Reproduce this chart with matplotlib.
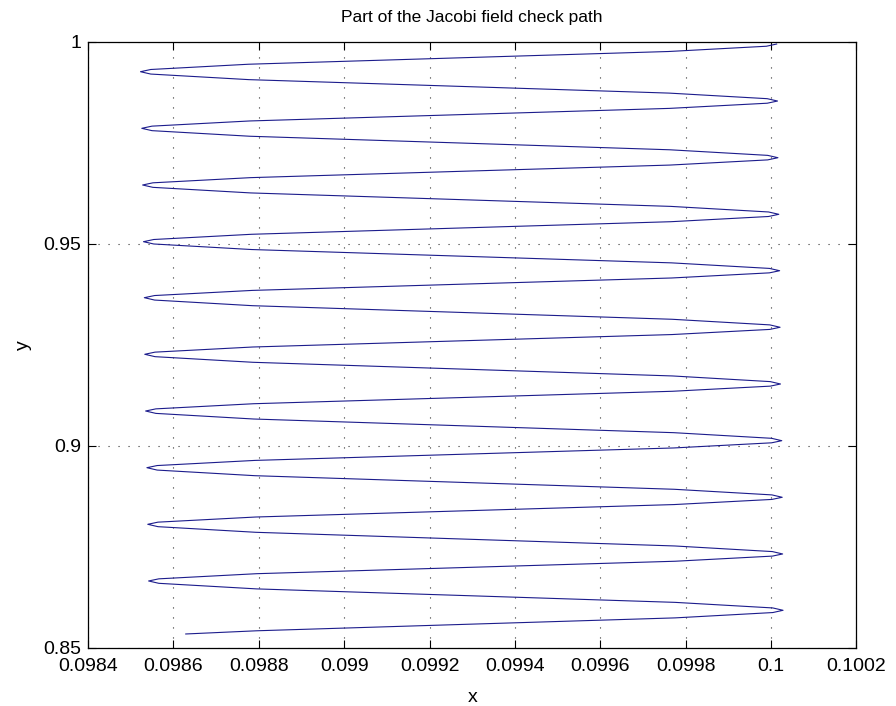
import matplotlib
matplotlib.use("Agg")
import matplotlib.pyplot as plt

plt.rcParams['font.family'] = ['Liberation Sans', 'DejaVu Sans']

# path samples, bottom (start) to top (end)
path_x = [
    0.098629, 0.098795, 0.099285, 0.099775, 0.100004,
    0.100028, 0.100004, 0.099775, 0.099285, 0.098795, 0.098566,
    0.098542, 0.098566, 0.098795, 0.099285, 0.099775, 0.100003,
    0.100027, 0.100003, 0.099774, 0.099284, 0.098793, 0.098564,
    0.098540, 0.098564, 0.098793, 0.099283, 0.099773, 0.100002,
    0.100026, 0.100002, 0.099773, 0.099282, 0.098791, 0.098562,
    0.098538, 0.098562, 0.098791, 0.099282, 0.099772, 0.100001,
    0.100025, 0.100001, 0.099772, 0.099280, 0.098788, 0.098559,
    0.098535, 0.098559, 0.098788, 0.099279, 0.099769, 0.099998,
    0.100022, 0.099998, 0.099769, 0.099278, 0.098786, 0.098557,
    0.098533, 0.098557, 0.098786, 0.099277, 0.099768, 0.099997,
    0.100021, 0.099997, 0.099768, 0.099277, 0.098785, 0.098556,
    0.098532, 0.098556, 0.098785, 0.099276, 0.099767, 0.099996,
    0.100020, 0.099996, 0.099767, 0.099275, 0.098783, 0.098554,
    0.098530, 0.098554, 0.098783, 0.099274, 0.099765, 0.099994,
    0.100018, 0.099994, 0.099765, 0.099273, 0.098781, 0.098552,
    0.098528, 0.098552, 0.098781, 0.099272, 0.099763, 0.099992,
    0.100016, 0.099992, 0.099763, 0.099271, 0.098779, 0.098550,
    0.098526, 0.098550, 0.098779, 0.099271, 0.099762, 0.099991,
    0.100015, 0.099991, 0.099761, 0.099269, 0.098777, 0.098547,
    0.098523, 0.098547, 0.098776, 0.099268, 0.099760, 0.099989,
    0.100013,
]
path_y = [
    0.85346, 0.85425, 0.85585, 0.85744, 0.85876,
    0.85932, 0.85990, 0.86128, 0.86295, 0.86461, 0.86599,
    0.86657, 0.86710, 0.86837, 0.86991, 0.87145, 0.87272,
    0.87325, 0.87384, 0.87523, 0.87692, 0.87861, 0.88000,
    0.88059, 0.88112, 0.88239, 0.88393, 0.88547, 0.88674,
    0.88727, 0.88786, 0.88925, 0.89093, 0.89261, 0.89400,
    0.89459, 0.89512, 0.89639, 0.89793, 0.89947, 0.90074,
    0.90127, 0.90186, 0.90325, 0.90494, 0.90663, 0.90802,
    0.90861, 0.90914, 0.91041, 0.91195, 0.91349, 0.91476,
    0.91529, 0.91588, 0.91728, 0.91897, 0.92066, 0.92205,
    0.92264, 0.92317, 0.92444, 0.92598, 0.92752, 0.92879,
    0.92932, 0.92991, 0.93130, 0.93298, 0.93466, 0.93605,
    0.93664, 0.93717, 0.93844, 0.93998, 0.94151, 0.94278,
    0.94331, 0.94388, 0.94525, 0.94690, 0.94855, 0.94992,
    0.95049, 0.95103, 0.95232, 0.95388, 0.95543, 0.95672,
    0.95726, 0.95784, 0.95922, 0.96089, 0.96255, 0.96393,
    0.96451, 0.96505, 0.96633, 0.96789, 0.96944, 0.97072,
    0.97126, 0.97184, 0.97322, 0.97490, 0.97657, 0.97795,
    0.97853, 0.97907, 0.98035, 0.98191, 0.98346, 0.98474,
    0.98528, 0.98586, 0.98724, 0.98891, 0.99057, 0.99195,
    0.99253, 0.99308, 0.99438, 0.99596, 0.99753, 0.99883,
    0.99938,
]

xticks = [0.0984, 0.0986, 0.0988, 0.0990, 0.0992, 0.0994, 0.0996, 0.0998, 0.1000, 0.1002]
xtick_labels = ['0.0984', '0.0986', '0.0988', '0.099', '0.0992', '0.0994',
                '0.0996', '0.0998', '0.1', '0.1002']
yticks = [0.85, 0.90, 0.95, 1.00]
ytick_labels = ['0.85', '0.9', '0.95', '1']

fig = plt.figure(figsize=(8.96, 7.06), dpi=100)
ax = fig.add_axes([0.0982, 0.0822, 0.8577, 0.8590])

ax.plot(path_x, path_y, color='#1c1c8c', linewidth=0.8)

ax.set_xlim(0.0984, 0.1002)
ax.set_ylim(0.85, 1.0)
ax.set_xticks(xticks)
ax.set_xticklabels(xtick_labels)
ax.set_yticks(yticks)
ax.set_yticklabels(ytick_labels)

ax.grid(True, color='0.2', linestyle=(0, (1, 8)), linewidth=0.8)
ax.tick_params(direction='in', length=6, width=0.8, top=True, right=True,
               labelsize=14)
ax.tick_params(axis='x', pad=7)
ax.tick_params(axis='y', pad=5)
for s in ax.spines.values():
    s.set_linewidth(0.9)

ax.set_title('Part of the Jacobi field check path', fontsize=12.5, pad=14)
ax.set_xlabel('x', fontsize=14, labelpad=10)
ax.set_ylabel('y', fontsize=14, labelpad=8)

fig.savefig('out.png', dpi=100)
